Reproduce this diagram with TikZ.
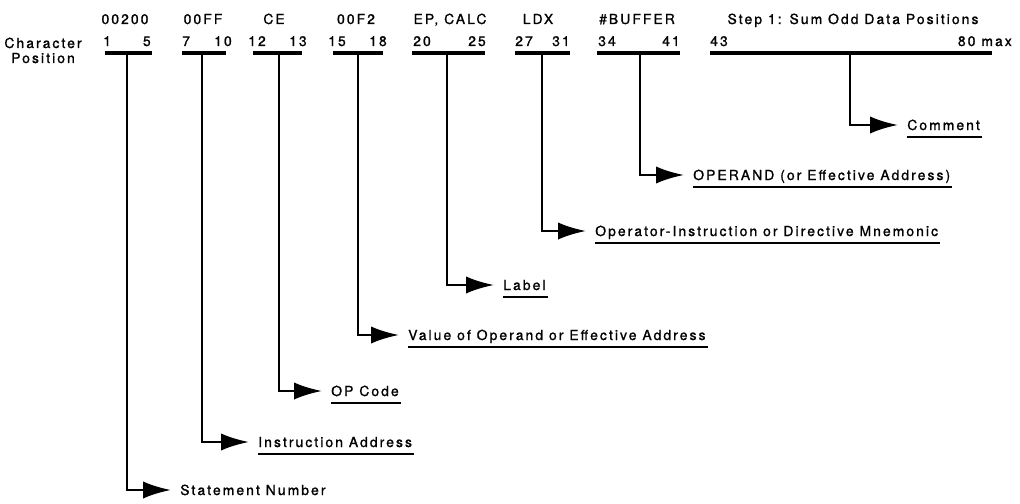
\documentclass[tikz,border=0pt]{standalone}
\usepackage{fontspec}
\setmainfont{TeX Gyre Heros}[LetterSpace=15,FakeBold=1.2]
\usetikzlibrary{arrows.meta}
\begin{document}
\begin{tikzpicture}[x=0.75pt,y=-0.75pt,
  txt/.style={font=\fontsize{10.4pt}{11.3pt}\selectfont, inner sep=0pt, text height=7.5pt, text depth=0pt},
  lbl/.style={txt, anchor=west},
  numl/.style={txt, anchor=west},
  numr/.style={txt, anchor=east},
  barline/.style={line width=2.4pt},
  conn/.style={line width=2.1pt, -{Latex[length=21pt,width=13pt]}, shorten >=6.75pt},
  uline/.style={line width=1.7pt}]
\useasboundingbox (0,0) rectangle (1020,503);

% header
\node[txt] (cp1) at (43,43) {Character};
\node[txt] (cp2) at (43,58) {Position};

% field 1
\coordinate (a1) at (105,53); \coordinate (b1) at (152,53); \coordinate (s1) at (127,53);
\draw[barline] (a1) -- (b1);
\node[txt] (h1) at (125,19) {00200};
\node[numl] (l1) at (103,41) {1};
\node[numr] (r1) at (151,41) {5};
\node[lbl] (t1) at (180,490) {Statement Number};
\draw[conn] (s1) |- (t1.west);

% field 2
\coordinate (a2) at (182,53); \coordinate (b2) at (226,53); \coordinate (s2) at (202,53);
\draw[barline] (a2) -- (b2);
\node[txt] (h2) at (203,19) {00FF};
\node[numl] (l2) at (182,41) {7};
\node[numr] (r2) at (232,41) {10};
\node[lbl] (t2) at (258,442) {Instruction Address};
\draw[conn] (s2) |- (t2.west);

% field 3
\coordinate (a3) at (253,53); \coordinate (b3) at (302,53); \coordinate (s3) at (279,53);
\draw[barline] (a3) -- (b3);
\node[txt] (h3) at (274,19) {CE};
\node[numl] (l3) at (248,41) {12};
\node[numr] (r3) at (307,41) {13};
\node[lbl] (t3) at (331,391) {OP Code};
\draw[conn] (s3) |- (t3.west);

% field 4
\coordinate (a4) at (333,53); \coordinate (b4) at (383,53); \coordinate (s4) at (358,53);
\draw[barline] (a4) -- (b4);
\node[txt] (h4) at (356,19) {00F2};
\node[numl] (l4) at (328,41) {15};
\node[numr] (r4) at (387,41) {18};
\node[lbl] (t4) at (408,335) {Value of Operand or Effective Address};
\draw[conn] (s4) |- (t4.west);

% field 5
\coordinate (a5) at (412,53); \coordinate (b5) at (485,53); \coordinate (s5) at (447,53);
\draw[barline] (a5) -- (b5);
\node[txt] (h5) at (450,19) {EP, CALC};
\node[numl] (l5) at (413,41) {20};
\node[numr] (r5) at (486,41) {25};
\node[lbl] (t5) at (503,285) {Label};
\draw[conn] (s5) |- (t5.west);

% field 6
\coordinate (a6) at (515,53); \coordinate (b6) at (570,53); \coordinate (s6) at (542,53);
\draw[barline] (a6) -- (b6);
\node[txt] (h6) at (538,19) {LDX};
\node[numl] (l6) at (515,41) {27};
\node[numr] (r6) at (570,41) {31};
\node[lbl] (t6) at (595,231) {Operator-Instruction or Directive Mnemonic};
\draw[conn] (s6) |- (t6.west);

% field 7
\coordinate (a7) at (597,53); \coordinate (b7) at (680,53); \coordinate (s7) at (640,53);
\draw[barline] (a7) -- (b7);
\node[txt] (h7) at (637,19) {\#BUFFER};
\node[numl] (l7) at (598,41) {34};
\node[numr] (r7) at (680,41) {41};
\node[lbl] (t7) at (693,175) {OPERAND (or Effective Address)};
\draw[conn] (s7) |- (t7.west);

% field 8
\coordinate (a8) at (710,53); \coordinate (b8) at (992,53); \coordinate (s8) at (850,53);
\draw[barline] (a8) -- (b8);
\node[txt] (h8) at (853,19) {Step 1: Sum Odd Data Positions};
\node[numl] (l8) at (710,41) {43};
\node[numr] (r8) at (1012,41) {80 max};
\node[lbl] (t8) at (907,125) {Comment};
\draw[conn] (s8) |- (t8.west);

% underlines
\foreach \t in {t2,t3,t4,t5,t6,t7,t8}
  \draw[uline] ([yshift=-5.25pt]\t.south west) -- ([yshift=-5.25pt,xshift=1.5pt]\t.south east);
\end{tikzpicture}
\end{document}
